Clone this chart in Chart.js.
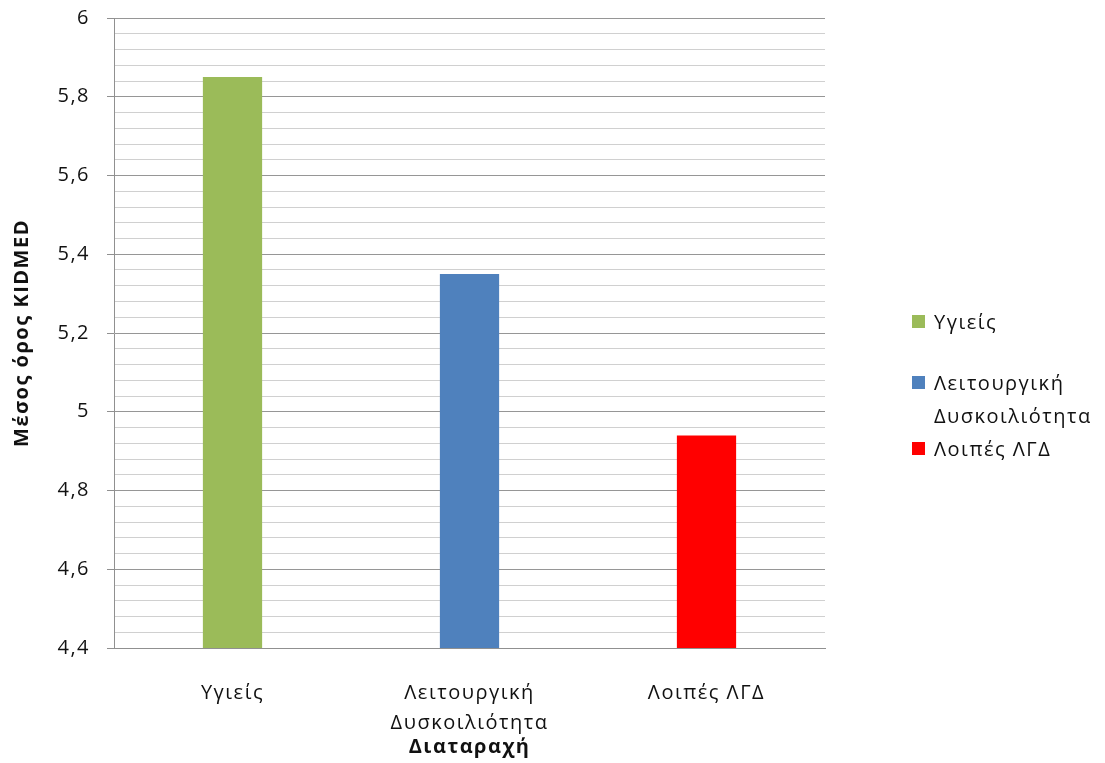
<!DOCTYPE html>
<html lang="el">
<head>
    <meta charset="UTF-8">
    <title>KIDMED</title>
    <script src="https://cdn.jsdelivr.net/npm/chart.js"></script>
    <style>
        body { margin: 0; background: #fff; font-family: "Open Sans", sans-serif; }
        #wrap { position: relative; width: 1105px; height: 763px; }
        #legend { position: absolute; left: 912px; top: 305px; color: #111; font-size: 20px; letter-spacing: 1.5px; }
        .item { position: relative; padding-left: 22px; line-height: 33px; }
        .box { position: absolute; left: 0; top: 10px; width: 13px; height: 13px; }
    </style>
</head>
<body>
    <div id="wrap">
        <canvas id="barChart" width="1105" height="763"></canvas>
        <div id="legend"></div>
    </div>
    <script>
        // data
        const categories = [["Υγιείς"], ["Λειτουργική", "Δυσκοιλιότητα"], ["Λοιπές ΛΓΔ"]];
        const kidmedMeans = [5.85, 5.35, 4.94];
        const barColors = ["#9BBB59", "#4F81BD", "#FF0000"];
        const yMin = 4.4, yMax = 6, yMajor = 0.2, yMinor = 0.04;

        function isMajor(v) {
            return Math.abs(v / yMajor - Math.round(v / yMajor)) < 1e-6;
        }

        // legend
        var legendHtml = "";
        var gaps = [0, 28, 0];
        categories.forEach(function (c, i) {
            legendHtml += `<div class="item" style="margin-top:${gaps[i]}px"><span class="box" style="background:${barColors[i]}"></span>${c.join("<br>")}</div>`;
        });
        document.getElementById("legend").innerHTML = legendHtml;

        Chart.defaults.font.family = '"Open Sans", sans-serif';
        Chart.defaults.color = "#111";

        // the original text is a bit spaced out
        const spacing = {
            id: "spacing",
            beforeInit: function (chart) { chart.ctx.letterSpacing = "1.5px"; },
            beforeDraw: function (chart) { chart.ctx.letterSpacing = "1.5px"; }
        };

        new Chart(document.getElementById("barChart"), {
            type: "bar",
            data: {
                labels: categories,
                datasets: [{
                    data: kidmedMeans,
                    backgroundColor: barColors,
                    barPercentage: 0.25,
                    categoryPercentage: 1
                }]
            },
            plugins: [spacing],
            options: {
                responsive: false,
                animation: false,
                layout: { padding: { top: 18, right: 280, left: 0, bottom: 0 } },
                plugins: { legend: { display: false }, tooltip: { enabled: false } },
                scales: {
                    x: {
                        grid: { display: false },
                        border: { display: true, color: "#909090" },
                        ticks: { font: { size: 20, lineHeight: 1.5 }, padding: 22, maxRotation: 0 },
                        title: { display: true, text: "Διαταραχή", font: { size: 20, weight: "bold" }, padding: { top: 0, bottom: 4 } },
                        afterFit: function (scale) { scale.height = 115; }
                    },
                    y: {
                        min: yMin,
                        max: yMax,
                        afterBuildTicks: function (scale) {
                            var t = [];
                            for (var k = 0; k <= Math.round((yMax - yMin) / yMinor); k++) {
                                t.push({ value: +(yMin + k * yMinor).toFixed(2) });
                            }
                            scale.ticks = t;
                        },
                        grid: {
                            color: function (ctx) { return isMajor(ctx.tick.value) ? "#969696" : "#d0d0d0"; },
                            tickColor: function (ctx) { return isMajor(ctx.tick.value) ? "#909090" : "rgba(0,0,0,0)"; },
                            tickLength: 7
                        },
                        border: { display: true, color: "#909090" },
                        ticks: {
                            font: { size: 20 },
                            padding: 17,
                            autoSkip: false,
                            callback: function (v) {
                                return isMajor(v) ? String(+v.toFixed(1)).replace(".", ",") : "";
                            }
                        },
                        title: { display: true, text: "Μέσος όρος KIDMED", font: { size: 20, weight: "bold" }, padding: { top: 10, bottom: 0 } },
                        afterFit: function (scale) {
                            scale.width = 114;
                            scale.paddingTop = 0;
                            scale.paddingBottom = 0;
                        }
                    }
                }
            }
        });
    </script>
</body>
</html>
